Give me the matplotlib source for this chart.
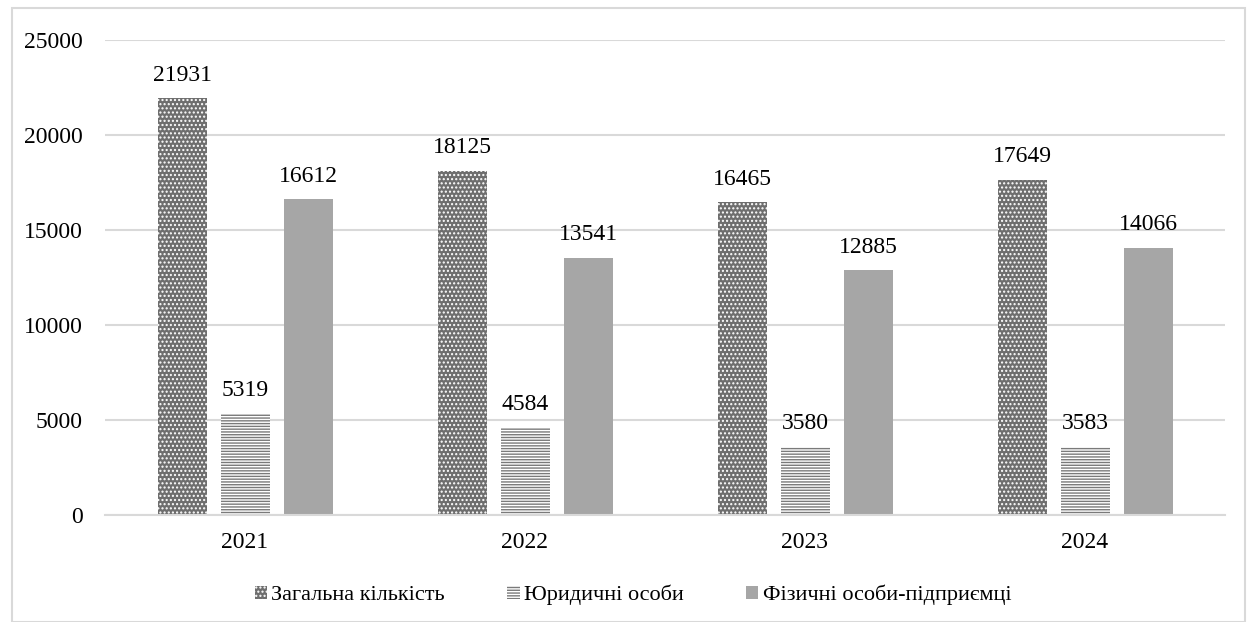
import numpy as np
import matplotlib.pyplot as plt
from matplotlib.patches import Rectangle

plt.rcParams['font.family'] = ['Liberation Serif', 'DejaVu Serif']
plt.rcParams['hatch.linewidth'] = 1.0

years = ['2021', '2022', '2023', '2024']
total = [21931, 18125, 16465, 17649]
legal = [5319, 4584, 3580, 3583]
individual = [16612, 13541, 12885, 14066]
labels = ['Загальна кількість', 'Юридичні особи', 'Фізичні особи-підприємці']

fig = plt.figure(figsize=(12.55, 6.22), dpi=100)
ax = fig.add_axes([105/1255, 1-515/622, 1120/1255, 475/622])

x = np.arange(len(years))
w = 0.175
off = 0.225
b1 = ax.bar(x - off, total, w, color='#6e6e6e', edgecolor='white', linewidth=0, hatch='....', label=labels[0])
b2 = ax.bar(x, legal, w, color='white', edgecolor='#7a7a7a', linewidth=0, hatch='------', label=labels[1])
b3 = ax.bar(x + off, individual, w, color='#a6a6a6', linewidth=0, label=labels[2])

for bars in (b1, b2, b3):
    ax.bar_label(bars, padding=9, fontsize=17)

ax.set_xlim(-0.5, 3.5)
ax.set_ylim(0, 25000)
ax.set_yticks(range(0, 25001, 5000))
ax.set_xticks(x, years)
ax.yaxis.grid(True, color='#d9d9d9', linewidth=1.5)
ax.set_axisbelow(True)
for s in ['top', 'right', 'left']:
    ax.spines[s].set_visible(False)
ax.spines['bottom'].set_color('#d9d9d9')
ax.spines['bottom'].set_linewidth(1.5)
ax.tick_params(axis='both', length=0, labelsize=17, pad=12)
ax.tick_params(axis='y', pad=16)

leg = fig.legend(loc='center', bbox_to_anchor=(633/1255, 1-595/622), ncol=3, frameon=False,
                 prop={'family': ['Liberation Serif', 'DejaVu Serif'], 'size': 16, 'stretch': 'condensed'},
                 handlelength=0.55, handleheight=0.55, handletextpad=0.2, columnspacing=2.8)

fig.patches.append(Rectangle((12/1255, 0), 1233/1255, 1-8/622, transform=fig.transFigure,
                             fill=False, edgecolor='#d9d9d9', linewidth=1.5))

fig.savefig('out.png', dpi=100)
